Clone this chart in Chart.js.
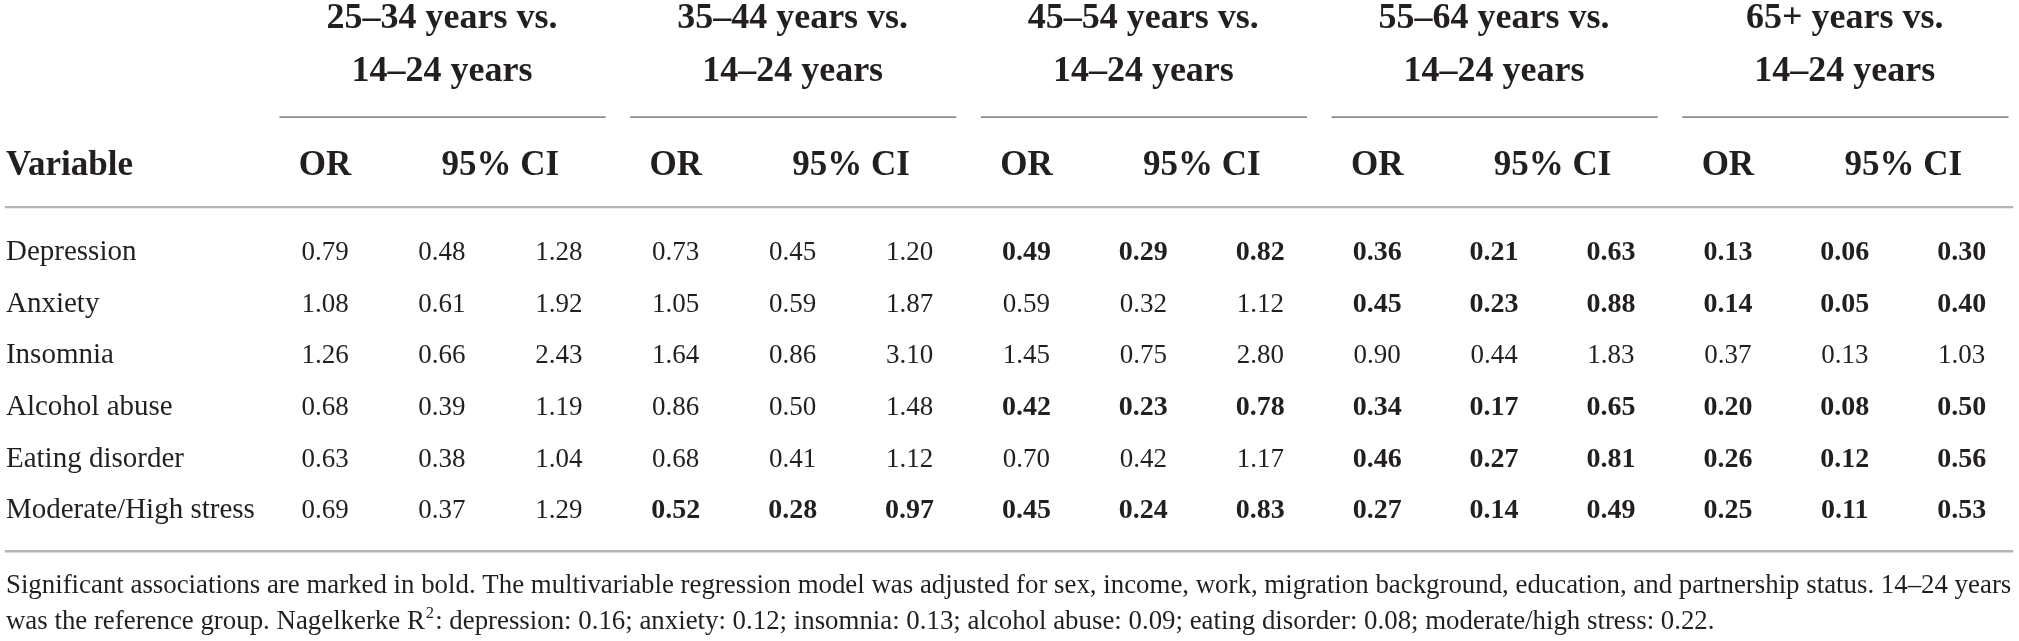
<!DOCTYPE html>
<html>
<head>
<meta charset="utf-8">
<script src="https://cdn.jsdelivr.net/npm/chart.js@4.4.1/dist/chart.umd.min.js"></script>
<style>
  html, body { margin: 0; padding: 0; background: #fff; }
  #wrap { width: 2019px; height: 641px; }
</style>
</head>
<body>
<div id="wrap"><canvas id="table" width="2019" height="641"></canvas></div>
<script>
// table content
const variables = ['Depression', 'Anxiety', 'Insomnia', 'Alcohol abuse', 'Eating disorder', 'Moderate/High stress'];
const groupTitles = [
  ['25–34 years vs.', '14–24 years'],
  ['35–44 years vs.', '14–24 years'],
  ['45–54 years vs.', '14–24 years'],
  ['55–64 years vs.', '14–24 years'],
  ['65+ years vs.', '14–24 years'],
];
// one row per age group, one value per variable
const orValues = [
  [0.79, 1.08, 1.26, 0.68, 0.63, 0.69],
  [0.73, 1.05, 1.64, 0.86, 0.68, 0.52],
  [0.49, 0.59, 1.45, 0.42, 0.70, 0.45],
  [0.36, 0.45, 0.90, 0.34, 0.46, 0.27],
  [0.13, 0.14, 0.37, 0.20, 0.26, 0.25],
];
const ciLower = [
  [0.48, 0.61, 0.66, 0.39, 0.38, 0.37],
  [0.45, 0.59, 0.86, 0.50, 0.41, 0.28],
  [0.29, 0.32, 0.75, 0.23, 0.42, 0.24],
  [0.21, 0.23, 0.44, 0.17, 0.27, 0.14],
  [0.06, 0.05, 0.13, 0.08, 0.12, 0.11],
];
const ciUpper = [
  [1.28, 1.92, 2.43, 1.19, 1.04, 1.29],
  [1.20, 1.87, 3.10, 1.48, 1.12, 0.97],
  [0.82, 1.12, 2.80, 0.78, 1.17, 0.83],
  [0.63, 0.88, 1.83, 0.65, 0.81, 0.49],
  [0.30, 0.40, 1.03, 0.50, 0.56, 0.53],
];
const columnHeads = ['Variable', 'OR', '95% CI'];
const footLine1 = 'Significant associations are marked in bold. The multivariable regression model was adjusted for sex, income, work, migration background, education, and partnership status. 14–24 years';
const footLine2 = ['was the reference group. Nagelkerke R', '2', ': depression: 0.16; anxiety: 0.12; insomnia: 0.13; alcohol abuse: 0.09; eating disorder: 0.08; moderate/high stress: 0.22.'];

const LABEL_COL = -2.729;
const INK = '#231f20';
const SERIF = '"Liberation Serif", "Times New Roman", serif';

const isSig = (g, r) => ciUpper[g][r] < 1 || ciLower[g][r] > 1;

const labelPoints = variables.map((v, r) => ({ x: LABEL_COL, y: r, text: v, bold: false }));
const cellPoints = [];
orValues.forEach((vals, g) => {
  vals.forEach((v, r) => {
    const b = isSig(g, r);
    cellPoints.push({ x: g * 3, y: r, text: v.toFixed(2), bold: b });
    cellPoints.push({ x: g * 3 + 1, y: r, text: ciLower[g][r].toFixed(2), bold: b });
    cellPoints.push({ x: g * 3 + 2, y: r, text: ciUpper[g][r].toFixed(2), bold: b });
  });
});

const tablePlugin = {
  id: 'tableText',
  afterDatasetsDraw(chart) {
    const { ctx, scales: { x, y } } = chart;
    ctx.save();
    ctx.fillStyle = INK;
    ctx.textBaseline = 'alphabetic';

    // body cells, placed by the scatter elements
    chart.data.datasets.forEach((ds, di) => {
      const meta = chart.getDatasetMeta(di);
      meta.data.forEach((el, i) => {
        const p = ds.data[i];
        if (di === 0) {
          ctx.font = '29px ' + SERIF;
          ctx.textAlign = 'left';
        } else {
          ctx.font = p.bold ? 'bold 28px ' + SERIF : '27px ' + SERIF;
          ctx.textAlign = 'center';
        }
        ctx.fillText(p.text, el.x, el.y);
      });
    });

    const rule = (x0, x1, yv, color, w) => {
      ctx.beginPath();
      ctx.strokeStyle = color;
      ctx.lineWidth = w;
      ctx.moveTo(x.getPixelForValue(x0), y.getPixelForValue(yv));
      ctx.lineTo(x.getPixelForValue(x1), y.getPixelForValue(yv));
      ctx.stroke();
    };

    // group headings + underline
    groupTitles.forEach((t, g) => {
      const c = g * 3 + 1;
      ctx.font = 'bold 36px ' + SERIF;
      ctx.textAlign = 'center';
      ctx.fillText(t[0], x.getPixelForValue(c), y.getPixelForValue(-4.496));
      ctx.fillText(t[1], x.getPixelForValue(c), y.getPixelForValue(-3.469));
      rule(g * 3 - 0.39, g * 3 + 2.4, -2.771, '#8c8c8c', 1.6);
      ctx.font = 'bold 35px ' + SERIF;
      ctx.fillText(columnHeads[1], x.getPixelForValue(g * 3), y.getPixelForValue(-1.647));
      ctx.fillText(columnHeads[2], x.getPixelForValue(g * 3 + 1.5), y.getPixelForValue(-1.647));
    });
    ctx.font = 'bold 35px ' + SERIF;
    ctx.textAlign = 'left';
    ctx.fillText(columnHeads[0], x.getPixelForValue(LABEL_COL), y.getPixelForValue(-1.647));

    rule(LABEL_COL - 0.01, 14.44, -1.027, '#b4b4b4', 2.4);
    rule(LABEL_COL - 0.01, 14.44, 5.64, '#b4b4b4', 2.4);

    // footnote, sized to the table width
    const fx = x.getPixelForValue(LABEL_COL);
    const target = x.getPixelForValue(14.43) - fx;
    ctx.font = '20px ' + SERIF;
    const fs = 20 * target / ctx.measureText(footLine1).width;
    ctx.textAlign = 'left';
    ctx.font = fs + 'px ' + SERIF;
    ctx.fillText(footLine1, fx, y.getPixelForValue(6.45));
    const y2 = y.getPixelForValue(7.15);
    ctx.fillText(footLine2[0], fx, y2);
    let cx = fx + ctx.measureText(footLine2[0]).width;
    ctx.font = (fs * 0.62) + 'px ' + SERIF;
    ctx.fillText(footLine2[1], cx + 1, y2 - fs * 0.42);
    cx += ctx.measureText(footLine2[1]).width + 2;
    ctx.font = fs + 'px ' + SERIF;
    ctx.fillText(footLine2[2], cx, y2);
    ctx.restore();
  }
};

new Chart(document.getElementById('table'), {
  type: 'scatter',
  data: {
    datasets: [
      { label: 'variables', data: labelPoints, pointRadius: 0, pointHoverRadius: 0 },
      { label: 'cells', data: cellPoints, pointRadius: 0, pointHoverRadius: 0 },
    ],
  },
  options: {
    responsive: false,
    animation: false,
    layout: { padding: 0 },
    plugins: {
      legend: { display: false },
      tooltip: { enabled: false },
    },
    scales: {
      x: { type: 'linear', display: false, min: -2.78, max: 14.49 },
      y: { type: 'linear', display: false, reverse: true, min: -5.04, max: 7.38 },
    },
  },
  plugins: [tablePlugin],
});
</script>
</body>
</html>
